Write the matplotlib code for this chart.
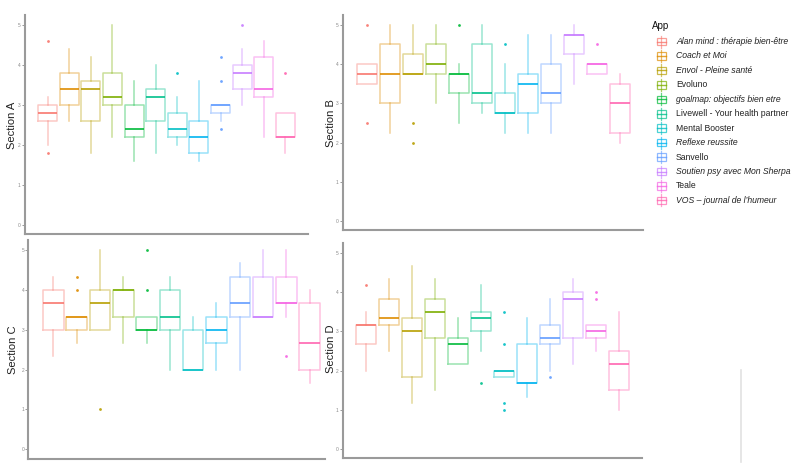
import matplotlib.pyplot as plt
from matplotlib.lines import Line2D
from matplotlib.patches import Rectangle

plt.rcParams['font.family'] = ['Liberation Sans', 'DejaVu Sans']

apps = ['Alan mind : thérapie bien-être', 'Coach et Moi', 'Envol - Pleine santé', 'Evoluno',
        'goalmap: objectifs bien etre', 'Livewell - Your health partner', 'Mental Booster',
        'Reflexe reussite', 'Sanvello', 'Soutien psy avec Mon Sherpa', 'Teale',
        'VOS – journal de l\u2019humeur']
italic = [1, 1, 1, 0, 1, 0, 0, 1, 0, 1, 0, 1]
colors = ['#F8766D', '#DE8C00', '#B79F00', '#7CAE00', '#00BA38', '#00C08B',
          '#00BFC4', '#00B4F0', '#619CFF', '#C77CFF', '#F564E3', '#FF64B0']

# Section A
a_low = [2.0, 2.6, 1.8, 2.2, 1.6, 1.8, 2.0, 1.6, 2.6, 3.0, 2.2, 1.8]
a_q1 = [2.6, 3.0, 2.6, 3.0, 2.2, 2.6, 2.2, 1.8, 2.8, 3.4, 3.2, 2.2]
a_med = [2.8, 3.4, 3.4, 3.2, 2.4, 3.2, 2.4, 2.2, 3.0, 3.8, 3.4, 2.2]
a_q3 = [3.0, 3.8, 3.6, 3.8, 3.0, 3.4, 2.8, 2.6, 3.0, 4.0, 4.2, 2.8]
a_high = [3.2, 4.4, 4.2, 5.0, 3.6, 4.0, 3.2, 3.6, 3.0, 4.4, 4.6, 2.8]
a_out = [[4.6, 1.8], [], [], [], [], [], [3.8], [], [4.2, 3.6, 2.4], [5.0], [], [3.8]]

# Section B
b_low = [3.5, 2.25, 3.75, 3.0, 2.5, 2.75, 2.25, 2.25, 2.25, 3.5, 3.75, 2.0]
b_q1 = [3.5, 3.0, 3.75, 3.75, 3.25, 3.0, 2.75, 2.75, 3.0, 4.25, 3.75, 2.25]
b_med = [3.75, 3.75, 3.75, 4.0, 3.75, 3.25, 2.75, 3.5, 3.25, 4.75, 4.0, 3.0]
b_q3 = [4.0, 4.5, 4.25, 4.5, 3.75, 4.5, 3.25, 3.75, 4.0, 4.75, 4.0, 3.5]
b_high = [4.0, 5.0, 5.0, 5.0, 4.0, 5.0, 4.0, 4.75, 4.75, 5.0, 4.0, 3.75]
b_out = [[5.0, 2.5], [], [2.5, 2.0], [], [5.0], [], [4.5], [], [], [], [4.5], []]

# Section C
c_low = [2.33, 2.67, 3.0, 2.67, 2.67, 2.0, 2.0, 2.0, 2.0, 3.33, 3.33, 1.67]
c_q1 = [3.0, 3.0, 3.0, 3.33, 3.0, 3.0, 2.0, 2.67, 3.33, 3.33, 3.67, 2.0]
c_med = [3.67, 3.33, 3.67, 4.0, 3.0, 3.33, 2.0, 3.0, 3.67, 3.33, 3.67, 2.67]
c_q3 = [4.0, 3.33, 4.0, 4.0, 3.33, 4.0, 3.0, 3.33, 4.33, 4.33, 4.33, 3.67]
c_high = [4.33, 3.33, 5.0, 4.33, 3.33, 4.33, 3.33, 3.67, 4.67, 5.0, 5.0, 4.0]
c_out = [[], [4.33, 4.0], [1.0], [], [5.0, 4.0], [], [], [], [], [], [2.33], []]

# Section D
d_low = [2.0, 2.5, 1.17, 1.5, 2.17, 2.5, 1.83, 1.33, 2.0, 2.17, 2.5, 1.0]
d_q1 = [2.67, 3.17, 1.83, 2.83, 2.17, 3.0, 1.83, 1.67, 2.67, 2.83, 2.83, 1.5]
d_med = [3.17, 3.33, 3.0, 3.5, 2.67, 3.33, 2.0, 1.67, 2.83, 3.83, 3.0, 2.17]
d_q3 = [3.17, 3.83, 3.33, 3.83, 2.83, 3.5, 2.0, 2.67, 3.17, 4.0, 3.17, 2.5]
d_high = [3.5, 4.33, 4.67, 4.33, 3.33, 4.17, 2.0, 3.33, 3.83, 4.33, 3.17, 3.5]
d_out = [[4.17], [], [], [], [], [1.67], [3.5, 2.67, 1.17, 1.0], [], [1.83], [], [4.0, 3.83], []]

sections = [
    ('Section A', a_low, a_q1, a_med, a_q3, a_high, a_out),
    ('Section B', b_low, b_q1, b_med, b_q3, b_high, b_out),
    ('Section C', c_low, c_q1, c_med, c_q3, c_high, c_out),
    ('Section D', d_low, d_q1, d_med, d_q3, d_high, d_out),
]

W, H = 800, 475
# panel frames in pixels: left, top, right, bottom
frames = [(25, 15, 308, 234), (343, 15, 643, 230), (28.5, 240, 325, 458.5), (343, 243, 642, 458)]
xlims = [(-1.04, 12.04), (-1.06, 12.02), (-1.07, 11.66), (-1.02, 12.02)]
label_xy = [(12, 125), (331, 123), (13, 350), (331, 349)]

fig = plt.figure(figsize=(8, 4.75), dpi=100)
axis_col = '#9a9a9a'

for k, (name, lo, q1, med, q3, hi, out) in enumerate(sections):
    l, t, r, b = frames[k]
    ax = fig.add_axes([l / W, (H - b) / H, (r - l) / W, (b - t) / H])
    stats = []
    for i in range(len(apps)):
        stats.append(dict(whislo=lo[i], q1=q1[i], med=med[i], q3=q3[i], whishi=hi[i], fliers=out[i]))
    res = ax.bxp(stats, positions=range(len(apps)), widths=0.88, showcaps=False,
                 patch_artist=False, manage_ticks=False)
    for i, c in enumerate(colors):
        res['boxes'][i].set(color=c, alpha=0.4, linewidth=1.1)
        res['whiskers'][2 * i].set(color=c, alpha=0.4, linewidth=1.1)
        res['whiskers'][2 * i + 1].set(color=c, alpha=0.4, linewidth=1.1)
        res['medians'][i].set(color=c, alpha=0.85, linewidth=1.4)
        res['fliers'][i].set(marker='o', markersize=2.0, markerfacecolor=c,
                             markeredgecolor='none', alpha=0.9)
    ax.set_xlim(*xlims[k])
    ax.set_ylim(-0.23, 5.25)
    ax.set_xticks([])
    ax.set_yticks([0, 1, 2, 3, 4, 5])
    ax.tick_params(axis='y', labelsize=3.5, labelcolor='#8a8a8a', color='#8a8a8a',
                   length=2, width=0.6, pad=1)
    for s in ['top', 'right']:
        ax.spines[s].set_visible(False)
    for s in ['left', 'bottom']:
        ax.spines[s].set_color(axis_col)
        ax.spines[s].set_linewidth(1.5)
    lx, ly = label_xy[k]
    fig.text(lx / W, 1 - ly / H, name, rotation=90, ha='center', va='center',
             fontsize=8, color='#222222')

# legend
lg = fig.add_axes([0, 0, 1, 1], facecolor='none')
lg.set_xlim(0, W)
lg.set_ylim(H, 0)
lg.axis('off')
lg.text(652, 26, 'App', fontsize=7, va='center', ha='left', color='#111111')
for i, (a, c) in enumerate(zip(apps, colors)):
    y = 41.5 + i * 14.45
    lg.add_line(Line2D([661, 661], [y - 6, y + 6], color=c, alpha=0.6, lw=0.9))
    lg.add_patch(Rectangle((656.5, y - 3.8), 9, 7.6, facecolor='white', edgecolor=c,
                           alpha=0.7, lw=0.9))
    lg.add_line(Line2D([656.5, 665.5], [y, y], color=c, alpha=0.8, lw=1.0))
    lg.text(676, y, a, fontsize=6.2, va='center', ha='left', color='#222222',
            style='italic' if italic[i] else 'normal')

lg.add_line(Line2D([741, 741], [370, 462], color='#e2e2e2', lw=1.2))

fig.savefig('out.png', dpi=100)
